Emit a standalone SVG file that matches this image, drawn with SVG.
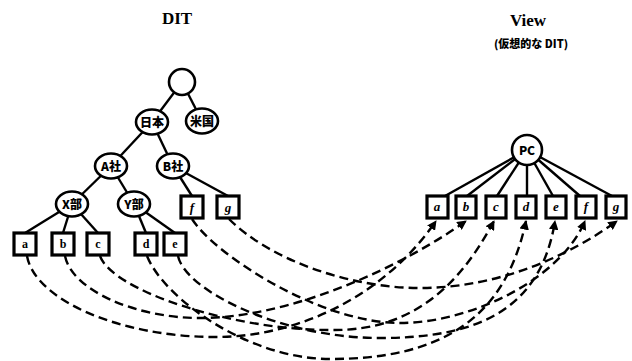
<svg xmlns="http://www.w3.org/2000/svg" width="632" height="361" viewBox="0 0 632 361">
<style>
.e{stroke:#000;stroke-width:2.4;fill:none}
.n{fill:#fff;stroke:#000;stroke-width:2.6}
.b{fill:#fff;stroke:#000;stroke-width:3.2}
.d{stroke:#000;stroke-width:2.4;fill:none;stroke-dasharray:9 5;marker-end:url(#ah)}
.jt{font-family:"Noto Sans CJK JP","Noto Sans",sans-serif;font-weight:900;font-size:12px;text-anchor:middle}
.lt{font-family:"Liberation Serif",serif;font-weight:bold;font-size:12px;text-anchor:middle}
.it{font-family:"Liberation Serif",serif;font-style:italic;font-weight:bold;font-size:13px;text-anchor:middle}
.ti{font-family:"Liberation Serif",serif;font-weight:bold;font-size:17px;text-anchor:middle}
</style>
<defs>
<marker id="ah" viewBox="0 0 10 10" refX="9" refY="5" markerWidth="4" markerHeight="4" orient="auto" markerUnits="strokeWidth">
<path d="M0,0 L10,5 L0,10 z" fill="#000"/>
</marker>
</defs>
<text class="ti" x="177" y="24">DIT</text>
<text class="ti" x="528" y="26">View</text>
<text class="jt" x="531" y="48" style="font-size:11px">(仮想的な DIT)</text>
<g id="connectors">
<line class="e" x1="182" y1="82" x2="152" y2="122"/>
<line class="e" x1="182" y1="82" x2="202" y2="121"/>
<line class="e" x1="152" y1="122" x2="111" y2="166"/>
<line class="e" x1="152" y1="122" x2="173" y2="166"/>
<line class="e" x1="111" y1="166" x2="72" y2="204"/>
<line class="e" x1="111" y1="166" x2="134" y2="204"/>
<line class="e" x1="173" y1="166" x2="192" y2="196"/>
<line class="e" x1="173" y1="166" x2="228" y2="196"/>
<line class="e" x1="72" y1="204" x2="25" y2="233"/>
<line class="e" x1="72" y1="204" x2="63" y2="233"/>
<line class="e" x1="72" y1="204" x2="98" y2="233"/>
<line class="e" x1="134" y1="204" x2="146" y2="233"/>
<line class="e" x1="134" y1="204" x2="175" y2="233"/>
<line class="e" x1="527" y1="150" x2="445" y2="196"/>
<line class="e" x1="527" y1="150" x2="467" y2="196"/>
<line class="e" x1="527" y1="150" x2="497" y2="196"/>
<line class="e" x1="527" y1="150" x2="527" y2="196"/>
<line class="e" x1="527" y1="150" x2="553" y2="196"/>
<line class="e" x1="527" y1="150" x2="580" y2="196"/>
<line class="e" x1="527" y1="150" x2="612" y2="196"/>
<path class="d" d="M27,256 C35,300 120,337 215,337 C300,337 385,295 436,221"/>
<path class="d" d="M65,256 C72,290 135,318 200,318 C290,318 400,268 466,221"/>
<path class="d" d="M100,256 C112,290 230,330 330,330 C420,332 465,275 494,221"/>
<path class="d" d="M147,256 C165,300 250,359 330,359 C440,359 505,320 526,221"/>
<path class="d" d="M178,256 C185,290 280,338 380,338 C470,338 540,315 555,221"/>
<path class="d" d="M192,219 C215,255 320,323 400,323 C470,323 560,280 585,221"/>
<path class="d" d="M229,219 C270,260 350,288 420,288 C500,288 570,255 617,221"/>
</g>
<g id="root"><circle class="n" cx="182" cy="82" r="13"/></g>
<g id="nihon"><ellipse class="n" cx="152" cy="122" rx="16" ry="12.5"/><text class="jt" x="152" y="126.5">日本</text></g>
<g id="beikoku"><ellipse class="n" cx="202" cy="121" rx="16" ry="12.5"/><text class="jt" x="202" y="125.5">米国</text></g>
<g id="asha"><ellipse class="n" cx="111" cy="166" rx="16" ry="12.5"/><text class="jt" x="111" y="170.5">A社</text></g>
<g id="bsha"><ellipse class="n" cx="173" cy="166" rx="16" ry="12.5"/><text class="jt" x="173" y="170.5">B社</text></g>
<g id="xbu"><ellipse class="n" cx="72" cy="204" rx="16" ry="12.5"/><text class="jt" x="72" y="208.5">X部</text></g>
<g id="ybu"><ellipse class="n" cx="134" cy="204" rx="16" ry="12.5"/><text class="jt" x="134" y="208.5">Y部</text></g>
<g id="dit-a"><rect class="b" x="14" y="233" width="22" height="22"/><text class="lt" x="25" y="248">a</text></g>
<g id="dit-b"><rect class="b" x="52" y="233" width="22" height="22"/><text class="lt" x="63" y="248">b</text></g>
<g id="dit-c"><rect class="b" x="87" y="233" width="22" height="22"/><text class="lt" x="98" y="248">c</text></g>
<g id="dit-d"><rect class="b" x="135" y="233" width="22" height="22"/><text class="lt" x="146" y="248">d</text></g>
<g id="dit-e"><rect class="b" x="164" y="233" width="22" height="22"/><text class="lt" x="175" y="248">e</text></g>
<g id="dit-f"><rect class="b" x="181" y="196" width="22" height="22"/><text class="it" x="192" y="212">f</text></g>
<g id="dit-g"><rect class="b" x="217" y="196" width="22" height="22"/><text class="it" x="228" y="212">g</text></g>
<g id="pc"><circle class="n" cx="527" cy="150" r="15"/><text class="jt" x="527" y="154.5">PC</text></g>
<g id="view-a"><rect class="b" x="427" y="196" width="21" height="22"/><text class="it" x="437" y="211">a</text></g>
<g id="view-b"><rect class="b" x="456" y="196" width="20" height="22"/><text class="it" x="466" y="211">b</text></g>
<g id="view-c"><rect class="b" x="486" y="196" width="20" height="22"/><text class="it" x="496" y="211">c</text></g>
<g id="view-d"><rect class="b" x="516" y="196" width="20" height="22"/><text class="it" x="526" y="211">d</text></g>
<g id="view-e"><rect class="b" x="546" y="196" width="20" height="22"/><text class="it" x="556" y="211">e</text></g>
<g id="view-f"><rect class="b" x="576" y="196" width="20" height="22"/><text class="it" x="586" y="211">f</text></g>
<g id="view-g"><rect class="b" x="606" y="196" width="20" height="22"/><text class="it" x="616" y="211">g</text></g>
</svg>
